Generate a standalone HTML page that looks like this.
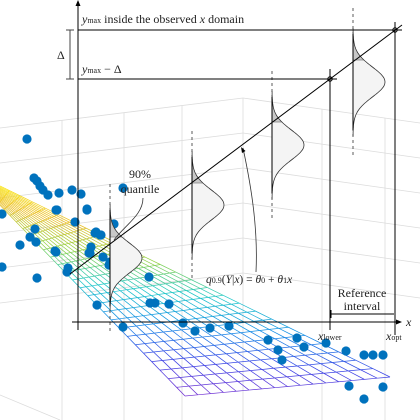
<!DOCTYPE html>
<html><head><meta charset="utf-8"><style>
html,body{margin:0;padding:0;background:#fff}
svg{display:block;font-family:"Liberation Serif",serif}
</style></head><body>
<svg id="c" width="420" height="420" viewBox="0 0 420 420" xmlns="http://www.w3.org/2000/svg">
<g id="grid" stroke="#dcdcdc" stroke-width="0.8" fill="none"></g>
<g id="mesh" fill="none" stroke-width="0.75"></g>
<g id="pts" fill="#0072BD"></g>
<g id="dists"></g>
<g id="fg" stroke="#000" fill="none" stroke-width="1">
<line x1="78" y1="330" x2="78" y2="3"/>
<path d="M75.5,6 L78,0 L80.5,6 Z" fill="#000" stroke="none"/>
<line x1="72" y1="322" x2="398" y2="322"/>
<path d="M396,319.5 L402,322 L396,324.5 Z" fill="#000" stroke="none"/>
<line x1="78" y1="322" x2="78" y2="330"/><line x1="330" y1="322" x2="330" y2="330"/><line x1="395" y1="322" x2="395" y2="330"/>
<line x1="78" y1="30" x2="402" y2="30"/>
<line x1="78" y1="79" x2="337" y2="79"/>
<line x1="395" y1="22" x2="395" y2="335"/>
<line x1="330" y1="69" x2="330" y2="322"/>
<g stroke="#444"><line x1="70" y1="30" x2="70" y2="79"/><line x1="66" y1="30" x2="74" y2="30"/><line x1="66" y1="79" x2="74" y2="79"/></g>
<line x1="70" y1="274" x2="402" y2="25"/>
<circle cx="395" cy="30" r="2.2"/><circle cx="330" cy="79" r="2.2"/>
<line x1="331" y1="314" x2="394" y2="314"/>
<line x1="331" y1="310" x2="331" y2="318"/>
<path d="M256,272 C258,230 252,190 243,148" stroke="#333" stroke-width="0.8"/>
<path d="M241,147 L242,153 L245.5,151 Z" fill="#000" stroke="none"/>
<path d="M143,198 C143,215 125,225 114,240" stroke="#333" stroke-width="0.8"/>
</g>
<g font-size="12" fill="#222">
<text x="82" y="23"><tspan font-style="italic">y</tspan><tspan font-size="8">max</tspan> inside the observed <tspan font-style="italic">x</tspan> domain</text>
<text x="82" y="73"><tspan font-style="italic">y</tspan><tspan font-size="8">max</tspan> − Δ</text>
<text x="57" y="59">Δ</text>
<text x="406" y="326" font-style="italic">x</text>
<text x="318" y="340"><tspan font-style="italic">x</tspan><tspan font-size="8">lower</tspan></text>
<text x="386" y="340"><tspan font-style="italic">x</tspan><tspan font-size="8">opt</tspan></text>
<text x="362" y="297" text-anchor="middle">Reference</text>
<text x="362" y="310" text-anchor="middle">interval</text>
<text x="140" y="178" text-anchor="middle">90%</text>
<text x="140" y="193" text-anchor="middle">quantile</text>
<text x="206" y="283" font-size="11.5"><tspan font-style="italic">q</tspan><tspan font-size="8">0.9</tspan>(<tspan font-style="italic">Y</tspan>|<tspan font-style="italic">x</tspan>) = <tspan font-style="italic">θ</tspan><tspan font-size="8">0</tspan> + <tspan font-style="italic">θ</tspan><tspan font-size="8">1</tspan><tspan font-style="italic">x</tspan></text>
</g>
</svg>
<script>
const NS='http://www.w3.org/2000/svg';
const ptX=[27,34,37,40,43,48,59,72,81,123,2,56,87,75,114,35,30,36,20,96,101,91,89,103,109,111,2,37,125,149,68,55,57,87,95,100,56,90,110,126,67,150,155,169,97,183,123,195,210,229,268,297,304,278,282,326,346,364,373,383,349,383,364];
const ptY=[139,178,181,186,190,195,193,190,194,188,214,210,209,222,224,229,237,242,245,232,235,247,253,257,265,263,267,278,266,277,268,251,210,210,233,235,252,253,262,265,272,303,303,304,305,323,327,331,328,326,340,338,347,350,360,343,351,355,355,355,386,387,399];
const distX=[110,192,272,353];
const distCenter=[258,205,145,82];
const distQuant=[237,183,122,60];
function mk(t,a,p){const e=document.createElementNS(NS,t);for(const k in a)e.setAttribute(k,a[k]);p.appendChild(e);return e;}
const g=document.getElementById('grid');
[128,163,198,233,268,303].forEach(y=>{const l=mk('line',{x1:0,y1:y,x2:243,y2:y-30},g);
 const r=mk('line',{x1:243,y1:y-30,x2:420,y2:y-30+25},g);});
[62,124,182].forEach(x=>{const l=mk('line',{x1:x,y1:128-30*x/243,x2:x,y2:420},g);});
[243,322,385].forEach(x=>{const y0=x==243?98:98+25*(x-243)/177;const l=mk('line',{x1:x,y1:y0,x2:x,y2:420},g);});
mk('line',{x1:0,y1:395,x2:60,y2:420},g);
const m=document.getElementById('mesh');
const P00=[0,186],P10=[390,377],P01=[-6,199],P11=[185,396];
function bl(u,v){return [P00[0]*(1-u)*(1-v)+P10[0]*u*(1-v)+P01[0]*(1-u)*v+P11[0]*u*v,P00[1]*(1-u)*(1-v)+P10[1]*u*(1-v)+P01[1]*(1-u)*v+P11[1]*u*v];}
const stops=[[250,230,20],[235,190,40],[150,210,70],[30,200,200],[20,140,230],[60,70,230],[120,50,210]];
function col(t){t=Math.max(0,Math.min(1,t));const f=t*(stops.length-1),i=Math.min(Math.floor(f),stops.length-2),r=f-i;const c=stops[i].map((v,k)=>Math.round(v+(stops[i+1][k]-v)*r));return `rgb(${c})`;}
const N=26,M=16;
const U=i=>Math.pow(i/N,1.15);
for(let i=0;i<N;i++)for(let j=0;j<=M;j++){const a=bl(U(i),j/M),b=bl(U(i+1),j/M);const l=mk('line',{x1:a[0],y1:a[1],x2:b[0],y2:b[1],stroke:col(U(i+0.5)*0.85+j/M*0.15)},m);}
for(let i=0;i<=N;i++)for(let j=0;j<M;j++){const a=bl(U(i),j/M),b=bl(U(i),(j+1)/M);const l=mk('line',{x1:a[0],y1:a[1],x2:b[0],y2:b[1],stroke:col(U(i)*0.85+(j+0.5)/M*0.15)},m);}
const pg=document.getElementById('pts');
ptX.forEach((x,i)=>{const c=mk('circle',{cx:x,cy:ptY[i],r:4.6},pg);});
const dg=document.getElementById('dists');
const s=15,amp=32;
distX.forEach((x0,k)=>{const c=distCenter[k],q=distQuant[k];
 const grp=mk('g',{},dg);
 const f=y=>x0+amp*Math.exp(-Math.pow((y-c)/s,2)/2);
 let full=`M${x0},${c-3.6*s}`;for(let y=c-3.6*s;y<=c+3.6*s;y+=1)full+=` L${f(y).toFixed(1)},${y}`;full+=` L${x0},${c+3.6*s}`;
 mk('path',{d:full+' Z',fill:'#f4f4f4',stroke:'none'},grp);
 let tail=`M${x0},${c-3.6*s}`;for(let y=c-3.6*s;y<=q;y+=1)tail+=` L${f(y).toFixed(1)},${y}`;tail+=` L${f(q).toFixed(1)},${q} L${x0},${q} Z`;
 mk('path',{d:tail,fill:'#c8c8c8',stroke:'none'},grp);
 mk('line',{x1:x0,y1:q,x2:f(q),y2:q,stroke:'#888','stroke-width':0.8},grp);
 mk('path',{d:full,fill:'none',stroke:'#333','stroke-width':0.8},grp);
 mk('line',{x1:x0,y1:c-3.6*s-20,x2:x0,y2:c+3.6*s+20,stroke:'#333','stroke-width':0.8,'stroke-dasharray':'3,3'},grp);
 mk('line',{x1:x0,y1:c-3.2*s,x2:x0,y2:c+3.2*s,stroke:'#000','stroke-width':1},grp);
});
</script>
</body></html>
